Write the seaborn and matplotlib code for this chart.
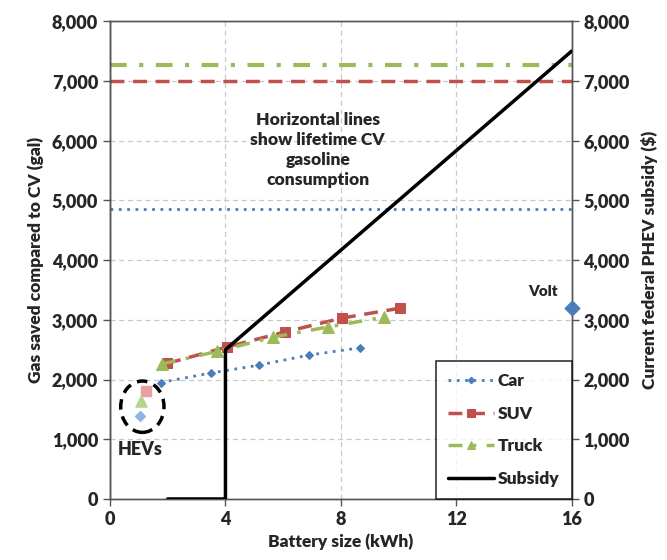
import matplotlib
matplotlib.use("Agg")
import matplotlib.pyplot as plt
from matplotlib.patches import Ellipse
from matplotlib.ticker import FuncFormatter
import seaborn as sns
import pandas as pd

sns.set_theme(style="white")
plt.rcParams['font.family'] = ['Lato', 'DejaVu Sans']
plt.rcParams['font.weight'] = 'bold'

# ---- data ----
car_x = [1.75, 3.5, 5.15, 6.9, 8.65]
car_y = [1950, 2110, 2240, 2410, 2530]
suv_x = [1.98, 4.05, 6.05, 8.05, 10.05]
suv_y = [2270, 2545, 2795, 3030, 3195]
truck_x = [1.8, 3.7, 5.65, 7.55, 9.5]
truck_y = [2260, 2470, 2710, 2880, 3045]
subsidy_x = [2.0, 4.0, 4.0, 16.0]
subsidy_y = [0, 0, 2500, 7500]
hev_x = [1.04, 1.25, 1.08]
hev_y = [1390, 1810, 1640]
lifetime_car, lifetime_suv, lifetime_truck = 4850, 7000, 7260
volt_x, volt_y = [16.0], [3200]
x_ticks = [0, 4, 8, 12, 16]
y_ticks = [0, 1000, 2000, 3000, 4000, 5000, 6000, 7000, 8000]

c_car = "#4a7ebb"
c_suv = "#c0504d"
c_truck = "#9bbb59"
BW = "heavy"

fig = plt.figure(figsize=(6.67, 5.6), dpi=100)
ax = fig.add_axes([0.165, 0.109, 0.692, 0.853])

df_car = pd.DataFrame({"x": car_x, "y": car_y})
df_suv = pd.DataFrame({"x": suv_x, "y": suv_y})
df_truck = pd.DataFrame({"x": truck_x, "y": truck_y})

# lifetime horizontal lines
ax.axhline(lifetime_car, color=c_car, lw=2, ls=(0, (1, 2)), zorder=2)
ax.axhline(lifetime_suv, color=c_suv, lw=2.5, ls=(0, (4, 2.5)), zorder=2)
ax.axhline(lifetime_truck, color=c_truck, lw=3, ls=(0, (4, 3, 1, 3)), zorder=2)

sns.lineplot(data=df_car, x="x", y="y", ax=ax, color=c_car, lw=2,
             linestyle=(0, (1, 2)), marker="D", markersize=4.5,
             markeredgecolor=c_car, label="Car", zorder=4)
sns.lineplot(data=df_suv, x="x", y="y", ax=ax, color=c_suv, lw=2.5,
             linestyle=(0, (4, 2.5)), marker="s", markersize=7,
             markeredgecolor=c_suv, label="SUV", zorder=4)
sns.lineplot(data=df_truck, x="x", y="y", ax=ax, color=c_truck, lw=2.5,
             linestyle=(0, (4, 3, 1, 3)), marker="^", markersize=8,
             markeredgecolor=c_truck, label="Truck", zorder=4)

# HEV points
ax.scatter(hev_x[0:1], hev_y[0:1], marker="D", s=25, color="#8eb4e3", zorder=5)
ax.scatter(hev_x[1:2], hev_y[1:2], marker="s", s=45, color="#e6a0a0", zorder=5)
ax.scatter(hev_x[2:3], hev_y[2:3], marker="^", s=65, color="#b5d68e", zorder=5)
ax.add_patch(Ellipse((1.12, 1545), 1.5, 860, fill=False, ec="black", lw=2.5,
                     ls=(0, (3, 2)), zorder=5))
ax.text(0.25, 820, "HEVs", fontsize=13, fontweight=BW, va="center")

ax.set_xlim(0, 16)
ax.set_ylim(0, 8000)
ax.set_xticks(x_ticks)
ax.set_yticks(y_ticks)
fmt = FuncFormatter(lambda v, p: f"{int(v):,}")
ax.yaxis.set_major_formatter(fmt)
ax.grid(True, color="#c8c8c8", ls=(0, (4, 3)), lw=0.9)
ax.set_axisbelow(True)
ax.tick_params(axis="both", labelsize=13, direction="out", length=5,
               width=1, color="#555555", bottom=True, left=True)
for lab in ax.get_xticklabels() + ax.get_yticklabels():
    lab.set_fontweight(BW)
ax.set_xlabel("Battery size (kWh)", fontsize=12.5, fontweight=BW, labelpad=4)
ax.set_ylabel("Gas saved compared to CV (gal)", fontsize=12.5, fontweight=BW, labelpad=6)
for s in ax.spines.values():
    s.set_color("#555555")
    s.set_linewidth(1)
ax.spines["left"].set_color("black")

ax.text(7.2, 5840, "Horizontal lines\nshow lifetime CV\ngasoline\nconsumption",
        ha="center", va="center", fontsize=12.5, fontweight=BW, linespacing=1.3)

# right axis: subsidy
ax2 = ax.twinx()
df_sub = pd.DataFrame({"x": subsidy_x, "y": subsidy_y})
ax2.plot(df_sub["x"], df_sub["y"], color="black", lw=2.5, label="Subsidy", zorder=6)
ax2.scatter(volt_x, volt_y, marker="D", s=55, color=c_car, zorder=7, clip_on=False)
ax2.text(15.0, 3480, "Volt", fontsize=11, fontweight=BW, ha="center", va="center")
ax2.set_ylim(0, 8000)
ax2.set_xlim(0, 16)
ax2.set_yticks(y_ticks)
ax2.yaxis.set_major_formatter(fmt)
ax2.tick_params(axis="y", labelsize=13, direction="out", length=5, width=1,
                color="#555555", right=True)
for lab in ax2.get_yticklabels():
    lab.set_fontweight(BW)
ax2.set_ylabel("Current federal PHEV subsidy ($)", fontsize=12.5, fontweight=BW, labelpad=8)
for s in ax2.spines.values():
    s.set_color("#555555")
    s.set_linewidth(1)
ax2.grid(False)

h1, l1 = ax.get_legend_handles_labels()
h2, l2 = ax2.get_legend_handles_labels()
if ax.get_legend():
    ax.get_legend().remove()
leg = ax2.legend(h1 + h2, l1 + l2, loc="lower right", bbox_to_anchor=(1.0, 0.0),
                 frameon=True, fancybox=False, edgecolor="black",
                 prop={"weight": BW, "size": 12.5}, labelspacing=0.95,
                 handlelength=2.6, handletextpad=0.25, borderpad=0.7,
                 borderaxespad=0.0, markerscale=0.75)
leg.get_frame().set_linewidth(1.2)
leg.set_zorder(10)

fig.savefig("out.png", dpi=100)
